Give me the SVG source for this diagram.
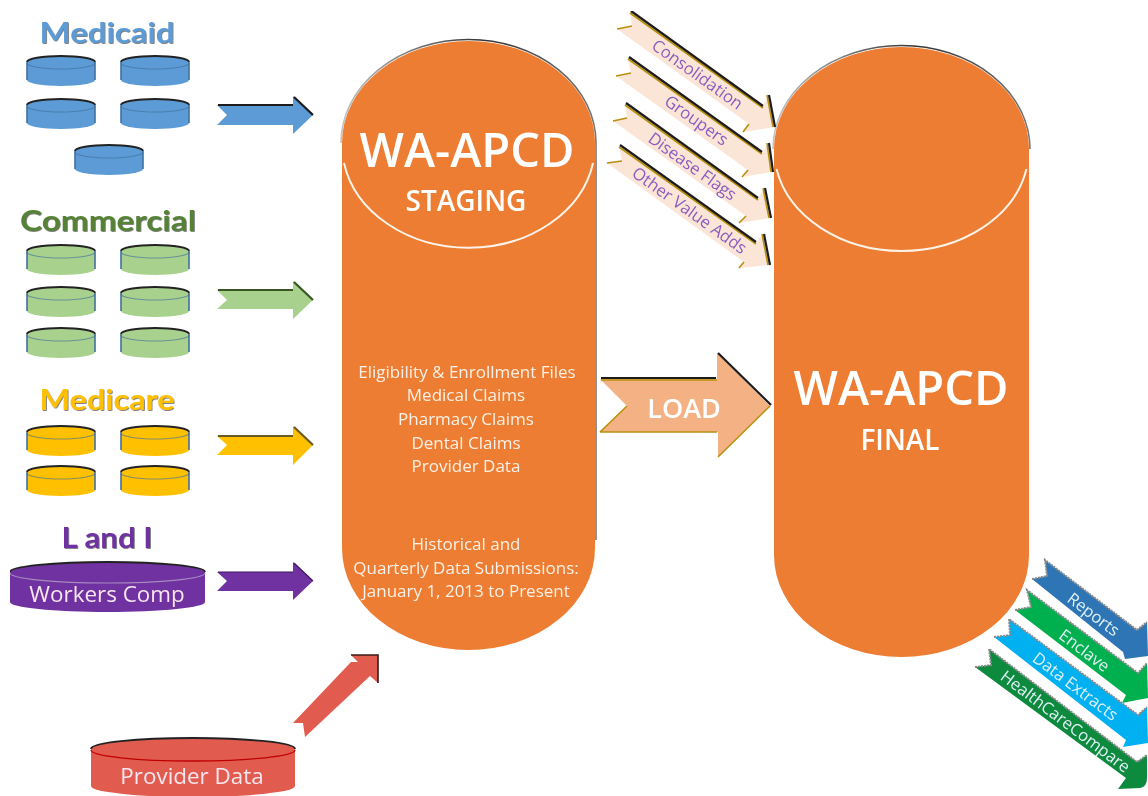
<svg xmlns="http://www.w3.org/2000/svg" xmlns:xlink="http://www.w3.org/1999/xlink" width="1148" height="796" viewBox="0 0 1148 796">
<style>
text{font-family:"Open Sans","Liberation Sans",sans-serif;text-anchor:middle}
.h{font-family:Lato,"Open Sans",sans-serif;font-size:28px;font-weight:700;filter:url(#hs)}
.big{fill:#fff;font-size:47px;font-weight:600}
.sub{fill:#fff;font-size:28px;font-weight:600}
.body{fill:#fdf0e6;font-size:17px}
.db{fill:#f6e6ee;font-size:22.400px}
.va{fill:#8c5cc0;font-size:16.700px}
.out{fill:#dff0f5;font-size:16.500px}
.sh{fill:none;stroke:#1c1c1c;stroke-width:2.2;stroke-linejoin:miter}
.gold{fill:none;stroke:#b8900c;stroke-width:1.6}
.gr{fill:none;stroke:#8a8a8a;stroke-width:2;stroke-dasharray:2 1}
.cyl{fill:#ed7d31}
.rim{fill:none;stroke:#fdf3ea;stroke-width:2}
</style>
<defs>
<filter id="soft" x="0" y="0" width="1" height="1"><feGaussianBlur stdDeviation="0.75"/></filter>
<filter id="hs" x="-5%" y="-10%" width="110%" height="125%"><feDropShadow dx="0.8" dy="0.8" stdDeviation="0.7" flood-color="#333" flood-opacity="0.75"/></filter>
<linearGradient id="edge" x1="0" y1="0" x2="1" y2="0"><stop offset="0" stop-color="#c4c4c4"/><stop offset="0.55" stop-color="#333"/><stop offset="1" stop-color="#777"/></linearGradient>
<g id="disk">
<path d="M0 6A34 6 0 0 1 68 6V24A34 6 0 0 1 0 24Z"/>
<path d="M0 7A34 6 0 0 0 68 7" fill="none" stroke="#41719c" stroke-width="1.2" stroke-opacity="0.65"/>
<path d="M0 6V24M68 6V24" fill="none" stroke="#41719c" stroke-width="1.6"/>
<path d="M0 6A34 6 0 0 1 68 6" fill="none" stroke="#222" stroke-width="1.8"/>
</g>
</defs>
<g filter="url(#soft)">
<g id="medicaid">
<text class="h" x="107" y="43" fill="#5b9bd5" textLength="135" lengthAdjust="spacingAndGlyphs">Medicaid</text>
<g fill="#5b9bd5">
<use xlink:href="#disk" href="#disk" x="27" y="56"/><use xlink:href="#disk" href="#disk" x="121" y="56"/>
<use xlink:href="#disk" href="#disk" x="27" y="99"/><use xlink:href="#disk" href="#disk" x="121" y="99"/>
<use xlink:href="#disk" href="#disk" x="75" y="145"/>
</g>
</g>
<g id="commercial">
<text class="h" x="108" y="231" fill="#548235" textLength="176" lengthAdjust="spacingAndGlyphs">Commercial</text>
<g fill="#a9d18e">
<use xlink:href="#disk" href="#disk" x="27" y="245"/><use xlink:href="#disk" href="#disk" x="121" y="245"/>
<use xlink:href="#disk" href="#disk" x="27" y="287"/><use xlink:href="#disk" href="#disk" x="121" y="287"/>
<use xlink:href="#disk" href="#disk" x="27" y="328"/><use xlink:href="#disk" href="#disk" x="121" y="328"/>
</g>
</g>
<g id="medicare">
<text class="h" x="107" y="410" fill="#ffc000" textLength="135" lengthAdjust="spacingAndGlyphs">Medicare</text>
<g fill="#ffc000">
<use xlink:href="#disk" href="#disk" x="27" y="426"/><use xlink:href="#disk" href="#disk" x="121" y="426"/>
<use xlink:href="#disk" href="#disk" x="27" y="466"/><use xlink:href="#disk" href="#disk" x="121" y="466"/>
</g>
</g>
<g id="l-and-i">
<text class="h" x="107" y="548" fill="#7030a0" textLength="91" lengthAdjust="spacingAndGlyphs">L and I</text>
<path fill="#7030a0" d="M10 572A97.500 10 0 0 1 205 572V602A97.500 10 0 0 1 10 602Z"/>
<path d="M10 573A97.500 10 0 0 0 205 573" fill="none" stroke="#a68ac0" stroke-width="1.2"/>
<path d="M10 572A97.500 10 0 0 1 205 572" fill="none" stroke="#222" stroke-width="1.8"/>
<text class="db" x="107" y="602">Workers Comp</text>
</g>
<g id="provider-data">
<path fill="#e15b50" d="M91 749A102 11 0 0 1 295 749V786A102 11 0 0 1 91 786Z"/>
<path d="M91 750A102 11 0 0 0 295 750" fill="none" stroke="#c00000" stroke-width="1.3"/>
<path d="M91 749A102 11 0 0 1 295 749" fill="none" stroke="#222" stroke-width="1.8"/>
<text class="db" x="192" y="784">Provider Data</text>
</g>
<g id="staging">
<path d="M341 143A127.500 103.500 0 0 1 596 143V540" fill="none" stroke="url(#edge)" stroke-width="1.6"/>
<path class="cyl" d="M342 143A126.500 102 0 0 1 595 143V548A126.500 102 0 0 1 342 548Z"/>
<path class="rim" d="M344 163A126.500 103 0 0 0 593 163"/>
<text class="big" x="467" y="167">WA-APCD</text>
<text class="sub" x="466" y="211">STAGING</text>
<g class="body">
<text x="467" y="378">Eligibility &amp; Enrollment Files</text>
<text x="466" y="401">Medical Claims</text>
<text x="466" y="425">Pharmacy Claims</text>
<text x="466" y="449">Dental Claims</text>
<text x="466" y="472">Provider Data</text>
<text x="466" y="550">Historical and</text>
<text x="466" y="574">Quarterly Data Submissions:</text>
<text x="466" y="597">January 1, 2013 to Present</text>
</g>
</g>
<g id="final">
<path d="M773 149A128.500 103.500 0 0 1 1030 149" fill="none" stroke="url(#edge)" stroke-width="1.6"/>
<path class="cyl" d="M774 149A127.500 102 0 0 1 1029 149V555A127.500 102 0 0 1 774 555Z"/>
<path class="rim" d="M776.500 169A127.500 102 0 0 0 1026.500 169"/>
<text class="big" x="901" y="405">WA-APCD</text>
<text class="sub" x="900" y="450">FINAL</text>
</g>
<g id="connectors">
<g id="arrow-medicaid"><path fill="#5b9bd5" d="M217 105H293V96L313 115L293 134V125H217L227 115Z"/><path class="sh" d="M218 105H293M294 97L313 115"/></g>
<g id="arrow-commercial"><path fill="#a9d18e" d="M217 290H293V281L313 300L293 319V309H217L227 300Z"/><path class="sh" style="stroke:#385723" d="M218 290H293M294 282L313 300"/></g>
<g id="arrow-medicare"><path fill="#ffc000" d="M217 436H293V426L313 445L293 465V455H217L227 445Z"/><path class="sh" style="stroke:#6b5a20" d="M218 436H293M294 427L313 445"/></g>
<g id="arrow-li"><path fill="#7030a0" d="M217 572H293V562L313 581L293 600V591H217L227 581Z"/><path class="sh" style="stroke:#3d1a5c;stroke-width:1.2" d="M218 572H293M294 563L313 581"/></g>
<g id="arrow-provider"><path fill="#e15b50" d="M293 723L351 662H358L351 655H378V683L370 676L305 737L303 723Z"/><path class="sh" d="M351 655H378V683" style="stroke:#3a1c18;stroke-width:1.6"/></g>
<g id="arrow-load"><path fill="#f4b183" d="M600 379H717V353L770 406L718 457V432H600L627 406Z"/><path class="gold" d="M600 432L627 406M718 457L770 406M600 432H717M601 380H717"/><path class="sh" d="M601 378H716M718 353L771 405"/><text x="684" y="418" font-size="27" font-weight="600" fill="#fff">LOAD</text></g>
<g id="arrow-consolidation"><path fill="#fbe5d6" d="M630 12L763 107L768 95L774 127L743 132L749 124L617 29L632 26Z"/><path class="gold" d="M630 13L763 108M767 95L773 127"/><path class="sh" d="M631 11L763 106M769 95L775 127"/><path class="gold" d="M617 29L632 26M743 132L749 124"/><text class="va" transform="translate(697 75) rotate(35.500)" y="5">Consolidation</text></g>
<g id="arrow-groupers"><path fill="#fbe5d6" d="M628 58L762 153L768 143L772 172L742 177L748 170L616 76L631 73Z"/><path class="gold" d="M628 59L762 154M767 143L771 172"/><path class="sh" d="M629 57L762 152M769 143L773 172"/><path class="gold" d="M616 76L631 73M742 177L748 170"/><text class="va" transform="translate(696 121) rotate(35.500)" y="5">Groupers</text></g>
<g id="arrow-disease-flags"><path fill="#fbe5d6" d="M625 104L758 199L764 188L770 218L739 223L746 216L613 121L627 118Z"/><path class="gold" d="M625 105L758 200M763 188L769 218"/><path class="sh" d="M626 103L758 198M765 188L771 218"/><path class="gold" d="M613 121L627 118M739 223L746 216"/><text class="va" transform="translate(692 167) rotate(35.500)" y="5">Disease Flags</text></g>
<g id="arrow-other-value-adds"><path fill="#fbe5d6" d="M619 146L756 243L763 234L769 265L739 268L744 262L607 163L622 161Z"/><path class="gold" d="M619 147L756 244M762 234L768 265"/><path class="sh" d="M620 145L756 242M764 234L770 265"/><path class="gold" d="M607 163L622 161M739 268L744 262"/><text class="va" transform="translate(689 211) rotate(35.500)" y="5">Other Value Adds</text></g>
<g id="arrow-reports"><path fill="#2e75b6" d="M1045 560L1137 630L1147 622L1148 656L1125 659L1123 652L1032 579L1047 576Z"/><path class="gr" d="M1032 579L1047 576L1045 560L1137 630L1147 622"/><text class="out" transform="translate(1093 615) rotate(37)" y="5">Reports</text></g>
<g id="arrow-enclave"><path fill="#00b050" d="M1027 590L1138 673L1147 663L1148 698L1122 703L1126 695L1015 610L1031 607Z"/><path class="gr" d="M1015 610L1031 607L1027 590L1138 673L1147 663"/><text class="out" transform="translate(1084 651) rotate(37)" y="5">Enclave</text></g>
<g id="arrow-data-extracts"><path fill="#00b0f0" d="M1009 619L1138 715L1147 707L1148 743L1123 747L1126 740L994 637L1010 635Z"/><path class="gr" d="M994 637L1010 635L1009 619L1138 715L1147 707"/><text class="out" transform="translate(1075 687) rotate(37)" y="5">Data Extracts</text></g>
<g id="arrow-healthcarecompare"><path fill="#0a8a3e" d="M989 649L1137 762L1147 755V778Q1147 787 1140 788L1118 789L1126 778L975 667L991 665Z"/><path class="gr" d="M975 667L991 665L989 649L1137 762L1147 755"/><text class="out" transform="translate(1065 722) rotate(37)" y="5">HealthCareCompare</text></g>
</g>
</g>
</svg>
